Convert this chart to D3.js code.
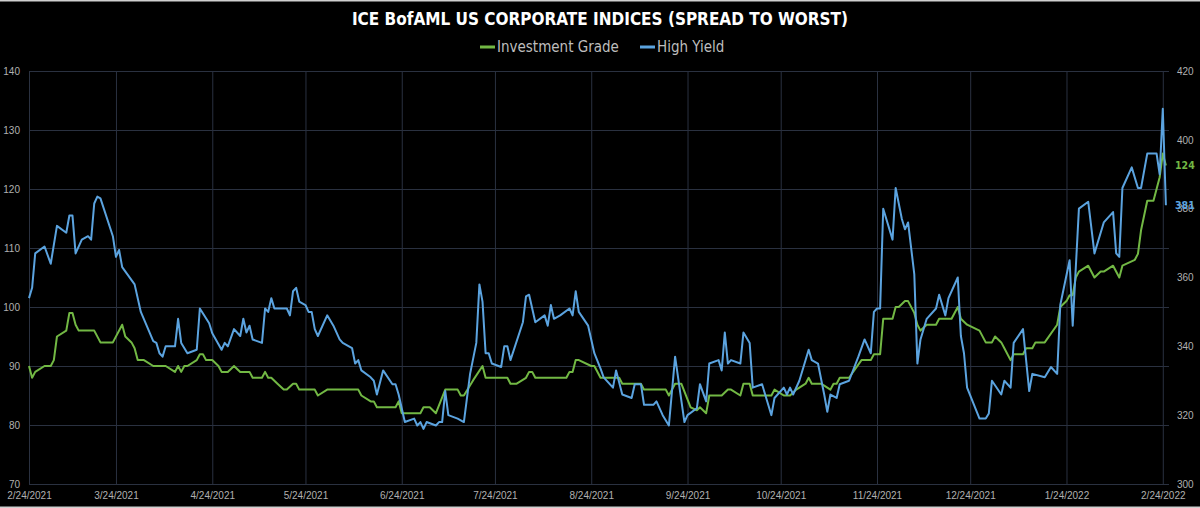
<!DOCTYPE html>
<html lang="en">
<head>
<meta charset="UTF-8">
<title>ICE BofAML US Corporate Indices (Spread to Worst)</title>
<script src="https://d3js.org/d3.v7.min.js"></script>
<style>
  body { margin: 0; background: #000; }
  svg { display: block; font-family: "Liberation Sans Narrow", "DejaVu Sans Condensed", sans-serif; }
  .grid line { stroke: #2a3140; }
  .tick text { fill: #b0b0b0; font-size: 10px; }
</style>
</head>
<body>
<div id="chart"></div>
<script>
// Investment Grade spread to worst (left axis)
const igDates = ["2021-02-24","2021-02-25","2021-02-26","2021-03-01","2021-03-03","2021-03-04","2021-03-05","2021-03-08","2021-03-09","2021-03-10","2021-03-11","2021-03-12","2021-03-17","2021-03-19","2021-03-23","2021-03-26","2021-03-27","2021-03-29","2021-03-30","2021-03-31","2021-04-02","2021-04-05","2021-04-09","2021-04-12","2021-04-13","2021-04-14","2021-04-15","2021-04-16","2021-04-19","2021-04-20","2021-04-21","2021-04-22","2021-04-24","2021-04-26","2021-04-27","2021-04-29","2021-05-01","2021-05-03","2021-05-06","2021-05-07","2021-05-10","2021-05-11","2021-05-12","2021-05-13","2021-05-15","2021-05-17","2021-05-18","2021-05-20","2021-05-21","2021-05-22","2021-05-27","2021-05-28","2021-05-31","2021-06-10","2021-06-11","2021-06-14","2021-06-15","2021-06-16","2021-06-22","2021-06-23","2021-06-24","2021-06-30","2021-07-01","2021-07-03","2021-07-05","2021-07-08","2021-07-12","2021-07-13","2021-07-14","2021-07-17","2021-07-20","2021-07-21","2021-07-28","2021-07-29","2021-07-31","2021-08-03","2021-08-04","2021-08-05","2021-08-06","2021-08-16","2021-08-17","2021-08-18","2021-08-19","2021-08-20","2021-08-24","2021-08-25","2021-08-27","2021-09-02","2021-09-03","2021-09-09","2021-09-10","2021-09-17","2021-09-18","2021-09-20","2021-09-22","2021-09-25","2021-09-27","2021-09-28","2021-09-30","2021-10-01","2021-10-05","2021-10-07","2021-10-08","2021-10-11","2021-10-12","2021-10-14","2021-10-15","2021-10-21","2021-10-22","2021-10-25","2021-10-27","2021-10-29","2021-11-01","2021-11-02","2021-11-03","2021-11-06","2021-11-09","2021-11-10","2021-11-11","2021-11-12","2021-11-15","2021-11-19","2021-11-22","2021-11-23","2021-11-25","2021-11-26","2021-11-29","2021-11-30","2021-12-01","2021-12-03","2021-12-04","2021-12-06","2021-12-07","2021-12-08","2021-12-10","2021-12-13","2021-12-14","2021-12-18","2021-12-20","2021-12-21","2021-12-23","2021-12-27","2021-12-29","2021-12-31","2022-01-01","2022-01-03","2022-01-04","2022-01-06","2022-01-07","2022-01-10","2022-01-11","2022-01-13","2022-01-14","2022-01-17","2022-01-21","2022-01-22","2022-01-24","2022-01-25","2022-01-26","2022-01-27","2022-01-28","2022-01-31","2022-02-02","2022-02-04","2022-02-05","2022-02-08","2022-02-10","2022-02-11","2022-02-15","2022-02-16","2022-02-17","2022-02-19","2022-02-21","2022-02-22","2022-02-23","2022-02-24","2022-02-25"];
const igValues = [90,88,89,90,90,91,95,96,99,99,97,96,96,94,94,97,95,94,93,91,91,90,90,89,90,89,90,90,91,92,92,91,91,90,89,89,90,89,89,88,88,89,88,88,87,86,86,87,87,86,86,85,86,86,85,84,84,83,83,84,82,82,83,83,82,86,86,85,85,87.6,90,88,88,87,87,88,89,89,88,88,89,89,91,91,90,90,88,88,87,87,86,86,85,87,87,83,82.5,83,82,85,85,86,86,85,87,87,85,85,86,85,85,86,87,88,87,87,86,87,87,88,88,91,91,92,92,98,98,100,100,101,101,99,97,96,97,97,98,98,100,98,97,96,94,94,95,94,93,91,92,92,93,93,94,94,97,100,101,102,102,105,106,107,105,106,106,107,105,107,108,109,113,118,118,120,122,126,124];

// High Yield spread to worst (right axis)
const hyDates = ["2021-02-24","2021-02-25","2021-02-26","2021-03-01","2021-03-03","2021-03-05","2021-03-08","2021-03-09","2021-03-10","2021-03-11","2021-03-13","2021-03-15","2021-03-16","2021-03-17","2021-03-18","2021-03-19","2021-03-23","2021-03-24","2021-03-25","2021-03-26","2021-03-30","2021-04-01","2021-04-05","2021-04-06","2021-04-07","2021-04-08","2021-04-09","2021-04-12","2021-04-13","2021-04-14","2021-04-16","2021-04-19","2021-04-20","2021-04-23","2021-04-24","2021-04-27","2021-04-28","2021-04-29","2021-05-01","2021-05-03","2021-05-04","2021-05-05","2021-05-06","2021-05-07","2021-05-10","2021-05-11","2021-05-12","2021-05-13","2021-05-14","2021-05-18","2021-05-19","2021-05-20","2021-05-21","2021-05-22","2021-05-24","2021-05-25","2021-05-26","2021-05-27","2021-05-28","2021-05-31","2021-06-02","2021-06-04","2021-06-05","2021-06-08","2021-06-09","2021-06-10","2021-06-11","2021-06-14","2021-06-15","2021-06-16","2021-06-18","2021-06-21","2021-06-22","2021-06-23","2021-06-25","2021-06-28","2021-06-29","2021-06-30","2021-07-01","2021-07-02","2021-07-05","2021-07-06","2021-07-07","2021-07-08","2021-07-09","2021-07-12","2021-07-14","2021-07-16","2021-07-18","2021-07-19","2021-07-20","2021-07-21","2021-07-22","2021-07-23","2021-07-26","2021-07-27","2021-07-28","2021-07-29","2021-08-02","2021-08-03","2021-08-04","2021-08-06","2021-08-09","2021-08-10","2021-08-11","2021-08-12","2021-08-14","2021-08-17","2021-08-18","2021-08-19","2021-08-20","2021-08-23","2021-08-25","2021-08-27","2021-08-28","2021-08-31","2021-09-01","2021-09-03","2021-09-06","2021-09-07","2021-09-09","2021-09-10","2021-09-13","2021-09-14","2021-09-16","2021-09-18","2021-09-20","2021-09-23","2021-09-24","2021-09-27","2021-09-28","2021-09-30","2021-10-01","2021-10-04","2021-10-05","2021-10-06","2021-10-07","2021-10-08","2021-10-11","2021-10-12","2021-10-14","2021-10-15","2021-10-18","2021-10-21","2021-10-22","2021-10-25","2021-10-26","2021-10-27","2021-10-28","2021-10-30","2021-11-02","2021-11-03","2021-11-05","2021-11-07","2021-11-08","2021-11-09","2021-11-11","2021-11-12","2021-11-15","2021-11-18","2021-11-20","2021-11-22","2021-11-23","2021-11-24","2021-11-25","2021-11-26","2021-11-29","2021-11-30","2021-12-02","2021-12-03","2021-12-04","2021-12-06","2021-12-07","2021-12-08","2021-12-10","2021-12-13","2021-12-14","2021-12-16","2021-12-17","2021-12-20","2021-12-21","2021-12-22","2021-12-23","2021-12-27","2021-12-29","2021-12-30","2021-12-31","2022-01-03","2022-01-04","2022-01-06","2022-01-07","2022-01-10","2022-01-12","2022-01-13","2022-01-17","2022-01-19","2022-01-21","2022-01-22","2022-01-25","2022-01-26","2022-01-28","2022-01-31","2022-02-02","2022-02-05","2022-02-08","2022-02-09","2022-02-10","2022-02-11","2022-02-14","2022-02-16","2022-02-17","2022-02-19","2022-02-22","2022-02-23","2022-02-24","2022-02-25"];
const hyValues = [354,357,367,369,364,375,373,378,378,367,371,372,371,381.5,383.5,383,372,366,368,363,358,350,341.5,341,338,337,340,340,348,341,338,339,351,346.7,343.8,339,341,340,345,343,348,344,346,342,341,351,350,354,351,351,349,356,357,353,352,350,350,345,343,349,346,342,341,339.5,335,336,333,331,330,326,333,329,329,326,318,319,317,318,316,318,317,318,318,327,320,319,318,332,341,358,353,338,338,335,334,340,340,336,347,354.5,355,347,349,346,352,348,349,351,349,356,350,346,338,333.5,331,328,333,326,325,329,329,323,323,324,320,317,337,318,320,322,329,324,335,336,333,344,335,336,335,344,341,328,329,320,325,328,326,328,326,330,339,336,335,326,321,326,325,329,330,337,342,338,350,351,351,380,371,386,377,374,376,361,335,342,348,351,355,349,354,360,343,338,328,319,319,320.5,330,326,330,328,341,345,327,332,331,334,332,352,365,346,380,382,367,376,379,367,366,386,392,386,386,396,396,390,409,381];

const tickDates = ["2021-02-24","2021-03-24","2021-04-24","2021-05-24","2021-06-24","2021-07-24","2021-08-24","2021-09-24","2021-10-24","2021-11-24","2021-12-24","2022-01-24","2022-02-24"];
const leftTicks = [70, 80, 90, 100, 110, 120, 130, 140];
const rightTicks = [300, 320, 340, 360, 380, 400, 420];

const width = 1200, height = 508;
const margin = { top: 71, right: 31, bottom: 24, left: 29 };
const parse = d3.timeParse("%Y-%m-%d");

const ig = igDates.map((d, i) => ({ date: parse(d), value: igValues[i] }));
const hy = hyDates.map((d, i) => ({ date: parse(d), value: hyValues[i] }));

const svg = d3.select("#chart").append("svg")
    .attr("width", width)
    .attr("height", height);

svg.append("rect").attr("width", width).attr("height", height).attr("fill", "#000");
// thin light frame lines top and bottom
svg.append("rect").attr("x", 0).attr("y", 0).attr("width", width).attr("height", 1.5).attr("fill", "#cfcfcf");
svg.append("rect").attr("x", 0).attr("y", height - 1.5).attr("width", width).attr("height", 1.5).attr("fill", "#cfcfcf");

const x = d3.scaleTime()
    .domain([parse("2021-02-24"), parse("2022-02-26")])
    .range([margin.left, width - margin.right]);

const yL = d3.scaleLinear().domain([70, 140]).range([height - margin.bottom, margin.top]);
const yR = d3.scaleLinear().domain([300, 420]).range([height - margin.bottom, margin.top]);

const innerW = width - margin.left - margin.right;
const innerH = height - margin.top - margin.bottom;

// horizontal grid + left labels
svg.append("g")
    .attr("class", "grid")
    .attr("transform", `translate(${margin.left},0)`)
    .call(d3.axisLeft(yL).tickValues(leftTicks).tickSize(-innerW).tickPadding(9))
    .call(g => g.select(".domain").remove());

// vertical grid + date labels
svg.append("g")
    .attr("class", "grid")
    .attr("transform", `translate(0,${height - margin.bottom})`)
    .call(d3.axisBottom(x)
        .tickValues(tickDates.map(parse))
        .tickSize(-innerH)
        .tickPadding(8)
        .tickFormat(d3.timeFormat("%-m/%-d/%Y")))
    .call(g => g.select(".domain").remove());

// right labels
svg.append("g")
    .attr("transform", `translate(${width - margin.right},0)`)
    .call(d3.axisRight(yR).tickValues(rightTicks).tickSize(0).tickPadding(8))
    .call(g => g.select(".domain").remove());

const lineL = d3.line().x(d => x(d.date)).y(d => yL(d.value));
const lineR = d3.line().x(d => x(d.date)).y(d => yR(d.value));

const green = "#72b844", blue = "#5ba3df";

svg.append("path").datum(ig)
    .attr("fill", "none").attr("stroke", green).attr("stroke-width", 2)
    .attr("stroke-linejoin", "round")
    .attr("d", lineL);

svg.append("path").datum(hy)
    .attr("fill", "none").attr("stroke", blue).attr("stroke-width", 2)
    .attr("stroke-linejoin", "round")
    .attr("d", lineR);

// last value labels
const lastIg = ig[ig.length - 1], lastHy = hy[hy.length - 1];
svg.append("text")
    .attr("x", width - margin.right + 6).attr("y", yL(lastIg.value)).attr("dy", "0.35em")
    .attr("fill", green).attr("font-size", 10.5).attr("font-weight", "bold")
    .text(lastIg.value);
svg.append("text")
    .attr("x", width - margin.right + 6).attr("y", yR(lastHy.value)).attr("dy", "0.35em")
    .attr("fill", blue).attr("font-size", 10.5).attr("font-weight", "bold")
    .text(lastHy.value);

// title
svg.append("text")
    .attr("x", 600).attr("y", 25)
    .attr("text-anchor", "middle")
    .attr("fill", "#ffffff").attr("font-size", 17).attr("font-weight", "bold")
    .text("ICE BofAML US CORPORATE INDICES (SPREAD TO WORST)");

// legend
const legendItems = [
    { name: "Investment Grade", color: green, x: 480 },
    { name: "High Yield", color: blue, x: 640 }
];
const legend = svg.append("g");
legendItems.forEach(item => {
    legend.append("line")
        .attr("x1", item.x).attr("x2", item.x + 15)
        .attr("y1", 47).attr("y2", 47)
        .attr("stroke", item.color).attr("stroke-width", 3);
    legend.append("text")
        .attr("x", item.x + 17).attr("y", 52)
        .attr("fill", "#bdbdbd").attr("font-size", 15)
        .text(item.name);
});
</script>
</body>
</html>
